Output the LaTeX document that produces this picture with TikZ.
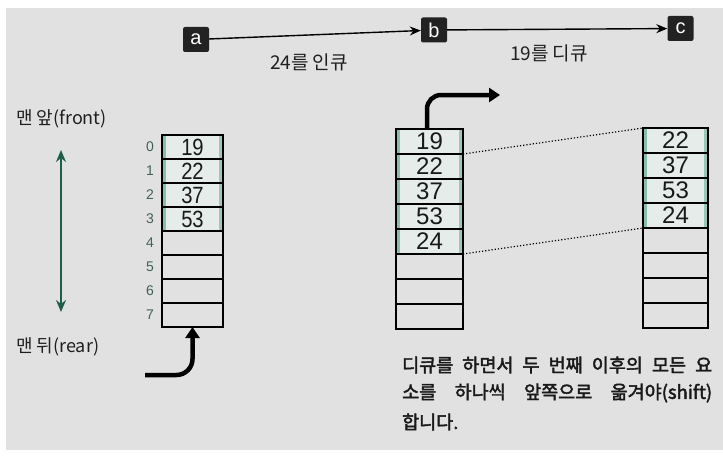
\documentclass[tikz,border=0pt]{standalone}
\usepackage{fontspec}
\setmainfont{Noto Sans CJK KR}
\newfontfamily\numfont{Liberation Sans}
\newfontfamily\cellfont[FakeStretch=0.86]{Liberation Sans}
\newfontfamily\notefont[FakeBold=2.2]{Noto Sans CJK KR}
\usetikzlibrary{arrows.meta}
\definecolor{bgc}{HTML}{E1E1E1}
\definecolor{boxc}{HTML}{222222}
\definecolor{gr}{HTML}{1F5F47}
\definecolor{idx}{HTML}{3F6158}
\definecolor{cellf}{HTML}{E6ECE9}
\definecolor{hl}{HTML}{3E9A7A}
\tikzset{
  lbl/.style={boxc, fill=boxc, text=white, rounded corners=2pt, minimum width=26pt, minimum height=25pt, inner sep=0pt, font=\numfont\fontsize{20}{20}\selectfont},
  thinarr/.style={line width=1.4pt, -{Stealth[length=11pt,width=9pt]}},
  cell/.style={draw, line width=1.8pt, inner sep=0pt, outer sep=0pt, font=\numfont\fontsize{24}{24}\selectfont, text=black!90},
  narrowcell/.style={cell, font=\cellfont\fontsize{23.5}{24}\selectfont},
  full/.style={fill=cellf},
  idxlbl/.style={text=idx, font=\numfont\fontsize{14}{14}\selectfont, inner sep=0pt},
  thickarr/.style={line width=4.5pt, -{Triangle[length=11pt,width=14pt]}},
  captxt/.style={font=\fontsize{18}{20}\selectfont, inner sep=0pt, text=black!88},
  note/.style={font=\notefont\fontsize{18.5}{20}\selectfont, inner sep=0pt, anchor=west, text=black!90},
  dots/.style={dotted, line width=1.2pt},
}
\begin{document}
\begin{tikzpicture}[x=1pt,y=-1pt]
\useasboundingbox (0,0) rectangle (723,460);
\fill[white] (0,0) rectangle (723,460);
\fill[bgc] (6,8) rectangle (723,450);

% top state labels
\node[lbl] (a) at (196,39.5) {a};
\node[lbl] (b) at (434,30) {b};
\node[lbl] (c) at (680.5,28.5) {c};
\draw[thinarr] (a) -- (b);
\draw[thinarr] (b) -- (c);
\node[captxt, font=\fontsize{19}{20}\selectfont] (t1) at (309,62) {24를 인큐};
\node[captxt, font=\fontsize{19}{20}\selectfont] (t2) at (549,53) {19를 디큐};

% front / rear
\node[captxt, anchor=west] (front) at (16,119) {맨 앞(front)};
\node[captxt, anchor=west] (rear) at (16,347) {맨 뒤(rear)};
\coordinate (gtop) at (61,150);
\coordinate (gbot) at (61,312);
\draw[gr, line width=1.8pt, {Stealth[length=12pt,width=10pt]}-{Stealth[length=12pt,width=10pt]}] (gtop) -- (gbot);

% left queue
\foreach \i/\v in {0/19,1/22,2/37,3/53} {
  \node[narrowcell, full, minimum width=61pt, minimum height=24pt] (L\i) at (192.5,{147+24*\i}) {\v};
}
\foreach \i in {4,...,7} {
  \node[narrowcell, minimum width=61pt, minimum height=24pt] (L\i) at (192.5,{147+24*\i}) {};
}
\foreach \i in {0,...,7} {
  \node[idxlbl] (I\i) at (150,{147+24*\i}) {\i};
}

% middle queue
\foreach \i/\v in {0/19,1/22,2/37,3/53,4/24} {
  \node[cell, full, minimum width=67pt, minimum height=25pt] (M\i) at (429.5,{141.5+25*\i}) {\v};
}
\foreach \i in {5,6,7} {
  \node[cell, minimum width=67pt, minimum height=25pt] (M\i) at (429.5,{141.5+25*\i}) {};
}

% right queue
\foreach \i/\v in {0/22,1/37,2/53,3/24} {
  \node[cell, full, minimum width=65pt, minimum height=25pt] (R\i) at (675.5,{140.5+25*\i}) {\v};
}
\foreach \i in {4,...,7} {
  \node[cell, minimum width=65pt, minimum height=25pt] (R\i) at (675.5,{140.5+25*\i}) {};
}

% green highlighter streaks
\foreach \n in {L0,L1,L2,L3,M0,M1,M2,M3,M4,R0,R1,R2,R3} {
  \fill[hl, opacity=0.55] ([xshift=1pt,yshift=-1pt]\n.north west) rectangle ([xshift=4pt,yshift=1pt]\n.south west);
  \fill[hl, opacity=0.45] ([xshift=-1pt,yshift=-1pt]\n.north east) rectangle ([xshift=-4pt,yshift=1pt]\n.south east);
}

% enqueue arrow
\coordinate (s1) at (145,375);
\draw[thickarr, rounded corners=16pt] (s1) -| (L7.south);

% dequeue arrow
\coordinate (d1) at (500,95);
\draw[thickarr, rounded corners=14pt] ([xshift=-2.5pt]M0.north) |- (d1);

% shift lines
\draw[dots] (M0.south east) -- (R0.north west);
\draw[dots] (M4.south east) -- (R3.south west);

% note
\node[note] (n1) at (402,365) {\makebox[310pt][s]{디큐를 하면서 두 번째 이후의 모든 요}};
\node[note] (n2) at (402,393) {\makebox[310pt][s]{소를 하나씩 앞쪽으로 옮겨야(shift)}};
\node[note] (n3) at (402,422) {합니다.};
\end{tikzpicture}
\end{document}
